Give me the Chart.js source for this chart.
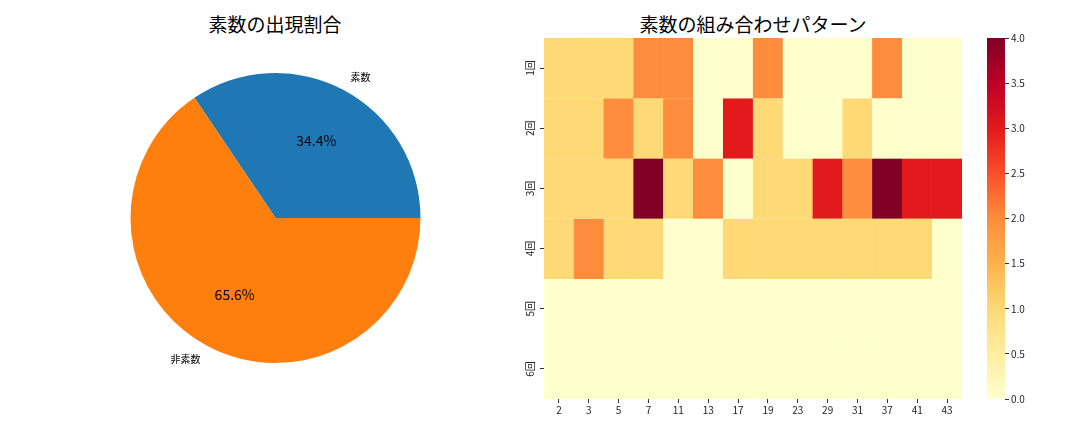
<!DOCTYPE html>
<html><head><meta charset="utf-8">
<script src="https://cdn.jsdelivr.net/npm/chart.js@4.4.0/dist/chart.umd.min.js"></script>
<style>
html,body{margin:0;padding:0;background:#fff;width:1080px;height:432px;overflow:hidden;font-family:"Noto Sans CJK JP","Noto Sans",sans-serif;}
canvas{position:absolute;}
.title{position:absolute;top:10px;font-size:19px;color:#000;text-align:center;white-space:nowrap;transform:translateX(-50%);line-height:28px;}
</style></head><body>
<div class="title" style="left:275px">素数の出現割合</div>
<div class="title" style="left:753px">素数の組み合わせパターン</div>
<canvas id="pie" width="550" height="432" style="left:0;top:0"></canvas>
<canvas id="heat" width="480" height="432" style="left:500px;top:0"></canvas>
<canvas id="cbar" width="93" height="432" style="left:987px;top:0"></canvas>
<script>
// ---- data ----
const pieLabels = ['素数', '非素数'];
const pieValues = [62, 118];
const pieColors = ['#1f77b4', '#ff7f0e'];

const primes = ['2','3','5','7','11','13','17','19','23','29','31','37','41','43'];
const rowLabels = ['1回','2回','3回','4回','5回','6回'];
const row1 = [1,1,1,2,2,0,0,2,0,0,0,2,0,0];
const row2 = [1,1,2,1,2,0,3,1,0,0,1,0,0,0];
const row3 = [1,1,1,4,1,2,0,1,1,3,2,4,3,3];
const row4 = [1,2,1,1,0,0,1,1,1,1,1,1,1,0];
const row5 = [0,0,0,0,0,0,0,0,0,0,0,0,0,0];
const row6 = [0,0,0,0,0,0,0,0,0,0,0,0,0,0];
const rows = [row1,row2,row3,row4,row5,row6];
const vmin = 0, vmax = 4;
const cbarTicks = [0,0.5,1,1.5,2,2.5,3,3.5,4];

const FONT = '"Noto Sans CJK JP","Noto Sans",sans-serif';
const YlOrRd = ['#ffffcc','#ffeda0','#fed976','#feb24c','#fd8d3c','#fc4e2a','#e31a1c','#bd0026','#800026'];
function hex2rgb(h){return [parseInt(h.slice(1,3),16),parseInt(h.slice(3,5),16),parseInt(h.slice(5,7),16)];}
function cmap(v){
  let t = (v - vmin)/(vmax - vmin); t = Math.max(0, Math.min(1, t));
  const p = t*(YlOrRd.length-1); const i = Math.min(Math.floor(p), YlOrRd.length-2); const f = p - i;
  const a = hex2rgb(YlOrRd[i]), b = hex2rgb(YlOrRd[i+1]);
  return 'rgb(' + a.map((x,k)=>Math.round(x+(b[k]-x)*f)).join(',') + ')';
}
Chart.defaults.font.family = FONT;
Chart.defaults.animation = false;
Chart.defaults.devicePixelRatio = 1;

// ---- pie ----
const pieLabelPlugin = {
  id:'pieLabels',
  afterDraw(chart){
    const ctx = chart.ctx; const meta = chart.getDatasetMeta(0);
    const total = pieValues.reduce((a,b)=>a+b,0);
    meta.data.forEach((arc,i)=>{
      const mid = (arc.startAngle + arc.endAngle)/2;
      const r = arc.outerRadius;
      const cx = arc.x, cy = arc.y;
      ctx.save();
      ctx.fillStyle = '#000';
      ctx.textBaseline = 'middle';
      // percentage
      ctx.font = '14px ' + FONT; ctx.textAlign = 'center';
      ctx.fillText((pieValues[i]/total*100).toFixed(1)+'%', cx + 0.6*r*Math.cos(mid), cy + 0.6*r*Math.sin(mid));
      // label
      ctx.font = '10px ' + FONT;
      const lx = cx + 1.1*r*Math.cos(mid), ly = cy + 1.1*r*Math.sin(mid);
      ctx.textAlign = Math.cos(mid) >= 0 ? 'left' : 'right';
      ctx.fillText(pieLabels[i], lx, ly);
      ctx.restore();
    });
  }
};
new Chart(document.getElementById('pie'), {
  type:'pie',
  data:{labels:pieLabels, datasets:[{data:pieValues, backgroundColor:pieColors, borderWidth:0}]},
  options:{
    responsive:false, rotation: 90 - pieValues[0]/(pieValues[0]+pieValues[1])*360,
    layout:{padding:{left:130.5, right:129.5, top:73, bottom:69}},
    plugins:{legend:{display:false}, tooltip:{enabled:false}}
  },
  plugins:[pieLabelPlugin]
});

// ---- heatmap ----
const rowLabelPlugin = {
  id:'rowLabels',
  afterDraw(chart){
    const ctx = chart.ctx; const ys = chart.scales.y; const x = chart.chartArea.left - 14;
    ctx.save(); ctx.fillStyle='#222'; ctx.font='10px '+FONT; ctx.textAlign='center'; ctx.textBaseline='middle';
    rowLabels.forEach((l,i)=>{
      const y = ys.getPixelForValue(i+0.5);
      ctx.save(); ctx.translate(x,y); ctx.rotate(-Math.PI/2); ctx.fillText(l,0,0); ctx.restore();
    });
    ctx.restore();
  }
};
new Chart(document.getElementById('heat'), {
  type:'bar',
  data:{labels:primes, datasets: rows.map((r,i)=>({
    label: rowLabels[i], data: r.map(()=>1),
    backgroundColor: r.map(v=>cmap(v)), borderColor: r.map(v=>cmap(v)), borderWidth:0.6,
    barPercentage:1, categoryPercentage:1
  }))},
  options:{
    responsive:false,
    layout:{padding:{left:0, right:18, top:38, bottom:0}},
    plugins:{legend:{display:false}, tooltip:{enabled:false}},
    scales:{
      x:{stacked:true, grid:{drawOnChartArea:false, drawTicks:true, tickLength:4, color:'#333', offset:false}, border:{display:false},
         ticks:{color:'#222', font:{size:10}, padding:1, maxRotation:0, autoSkip:false},
         afterFit(s){s.height = 33;}},
      y:{stacked:true, min:0, max:6, reverse:true,
         afterBuildTicks(s){ s.ticks = rowLabels.map((_,i)=>({value:i+0.5})); },
         grid:{drawOnChartArea:false, drawTicks:true, tickLength:4, color:'#333'}, border:{display:false},
         ticks:{display:false},
         afterFit(s){s.width = 44;}}
    }
  },
  plugins:[rowLabelPlugin]
});

// ---- colorbar ----
new Chart(document.getElementById('cbar'), {
  type:'bar',
  data:{labels:['c'], datasets:[{data:[[vmin, vmax]], borderWidth:0, barPercentage:1, categoryPercentage:1,
    backgroundColor(ctx){
      const ca = ctx.chart.chartArea; if(!ca) return '#ffffcc';
      const g = ctx.chart.ctx.createLinearGradient(0, ca.bottom, 0, ca.top);
      YlOrRd.forEach((c,i)=>g.addColorStop(i/(YlOrRd.length-1), c));
      return g;
    }}]},
  options:{
    responsive:false,
    layout:{padding:{left:0, right:0, top:38, bottom:33}},
    plugins:{legend:{display:false}, tooltip:{enabled:false}},
    scales:{
      x:{display:false},
      y:{position:'right', min:vmin, max:vmax,
         afterBuildTicks(s){ s.ticks = cbarTicks.map(v=>({value:v})); },
         grid:{drawOnChartArea:false, drawTicks:true, tickLength:4, color:'#333'}, border:{display:false},
         ticks:{color:'#222', font:{size:10}, padding:2, callback:(v)=>Number(v).toFixed(1)},
         afterFit(s){s.width = 75;}}
    }
  }
});
</script>
</body></html>
